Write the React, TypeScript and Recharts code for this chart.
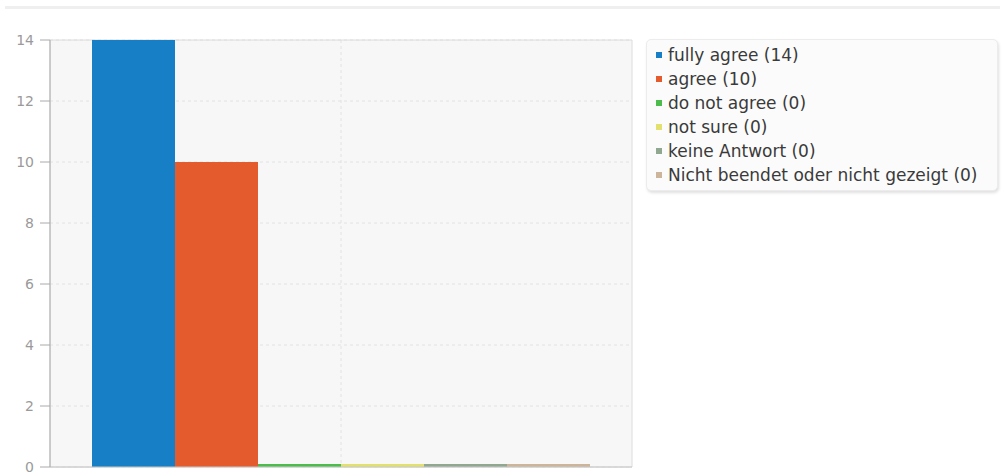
import React from "react";
import { BarChart, Bar, XAxis, YAxis, CartesianGrid, ReferenceArea } from "recharts";

const categories = [""];
const seriesNames = [
  "fully agree",
  "agree",
  "do not agree",
  "not sure",
  "keine Antwort",
  "Nicht beendet oder nicht gezeigt",
];
const seriesValues = [14, 10, 0, 0, 0, 0];
const seriesColors = ["#167fc6", "#e45c2e", "#4cbd4c", "#e2e06e", "#8fa88f", "#cdb59c"];
const yTicks = [0, 2, 4, 6, 8, 10, 12, 14];

const data = categories.map((name) => {
  const row: Record<string, string | number> = { name };
  seriesNames.forEach((s, i) => {
    row["s" + i] = seriesValues[i];
  });
  return row;
});

const FONT = "'DejaVu Sans', sans-serif";

const LegendBox = () => (
  <div
    style={{
      position: "absolute",
      left: 646,
      top: 39,
      width: 352,
      height: 152,
      boxSizing: "border-box",
      padding: "3px 8px 0 9px",
      background: "#fbfbfb",
      border: "1px solid #ececec",
      borderRadius: 5,
      boxShadow: "1px 2px 3px rgba(0,0,0,0.12)",
      fontFamily: FONT,
      fontSize: 17,
      color: "#3a3a3a",
      whiteSpace: "nowrap",
    }}
  >
    {seriesNames.map((s, i) => (
      <div key={s} style={{ display: "flex", alignItems: "center", height: 24 }}>
        <span
          style={{
            display: "inline-block",
            width: 6,
            height: 6,
            background: seriesColors[i],
            marginRight: 6,
            flex: "none",
          }}
        />
        <span>{`${s} (${seriesValues[i]})`}</span>
      </div>
    ))}
  </div>
);

export default function App() {
  return (
    <div style={{ position: "absolute", left: 0, top: 0, width: 1005, height: 472, background: "#fff" }}>
      <div
        style={{
          position: "absolute",
          left: 5,
          top: 6,
          width: 995,
          height: 3,
          background: "#efefef",
        }}
      />
      <BarChart
        width={1005}
        height={472}
        data={data}
        margin={{ top: 40, right: 373, bottom: 4, left: 0 }}
        barCategoryGap={42}
        barGap={0}
      >
        <CartesianGrid
          fill="#f7f7f7"
          stroke="#e2e2e2"
          strokeDasharray="3 3"
          verticalCoordinatesGenerator={({ offset }: any) => [offset.left + offset.width / 2]}
        />
        <ReferenceArea y1={0} y2={14} fill="none" stroke="#dcdcdc" strokeWidth={1} />
        <XAxis
          dataKey="name"
          tick={false}
          tickLine={false}
          height={1}
          axisLine={{ stroke: "#c8c8c8", strokeWidth: 1 }}
        />
        <YAxis
          width={50}
          domain={[0, 14]}
          ticks={yTicks}
          interval={0}
          tick={{ fill: "#9a9a9a", fontSize: 14, fontFamily: FONT }}
          tickLine={{ stroke: "#aaa" }}
          tickSize={10}
          tickMargin={6}
          axisLine={{ stroke: "#aaa" }}
        />
        {seriesNames.map((s, i) => (
          <Bar
            key={s}
            dataKey={"s" + i}
            name={s}
            fill={seriesColors[i]}
            minPointSize={3}
            isAnimationActive={false}
          />
        ))}
      </BarChart>
      <LegendBox />
    </div>
  );
}
